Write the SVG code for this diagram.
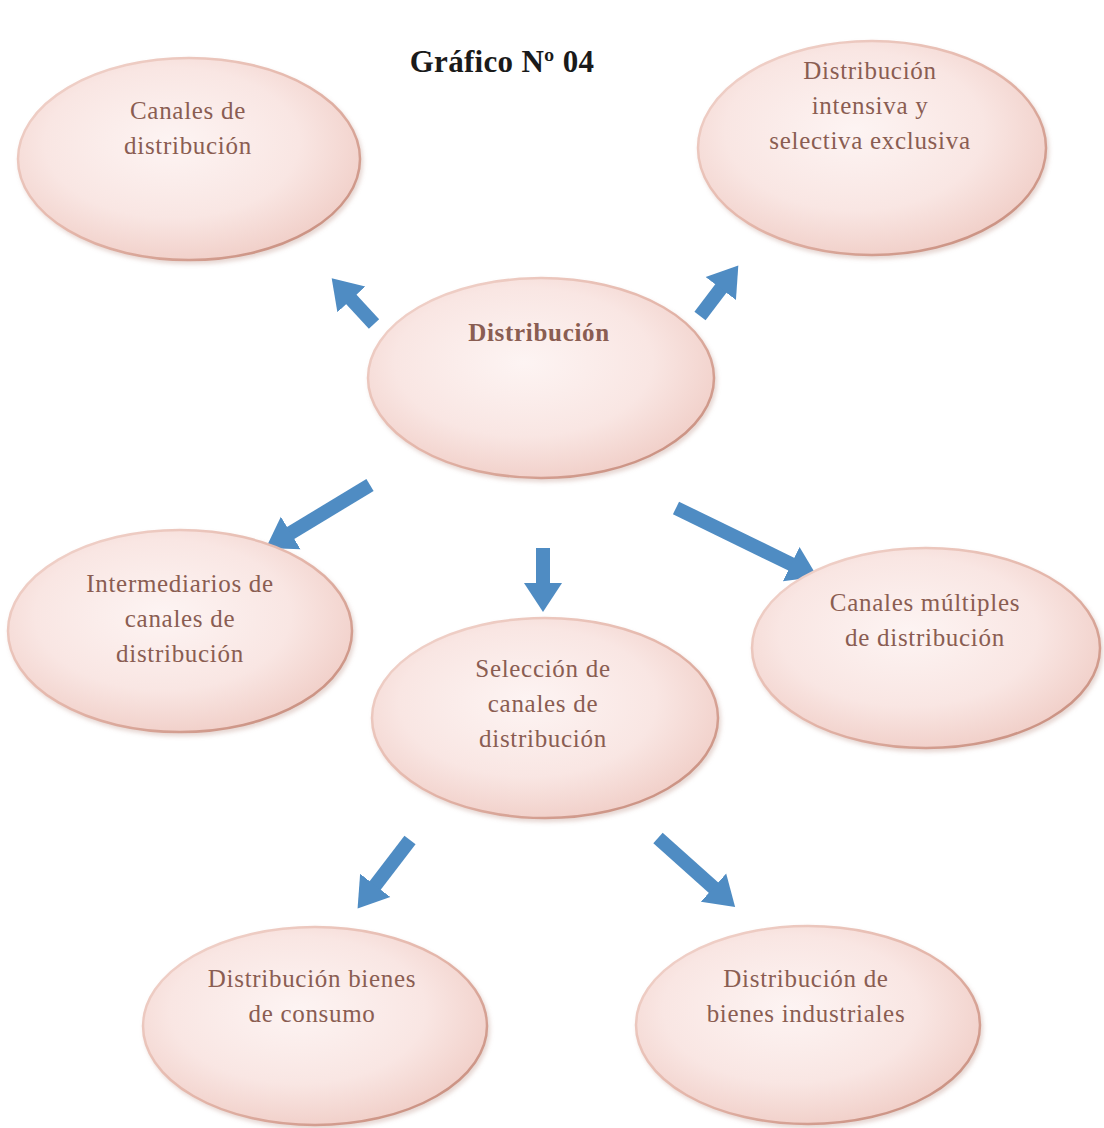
<svg xmlns="http://www.w3.org/2000/svg" width="1104" height="1128" viewBox="0 0 1104 1128">
  <defs>
    <radialGradient id="bubbleFill" cx="0.45" cy="0.42" r="0.62">
      <stop offset="0" stop-color="#fdf4f3"/>
      <stop offset="0.6" stop-color="#f9e6e3"/>
      <stop offset="1" stop-color="#f0cdc6"/>
    </radialGradient>
    <linearGradient id="bubbleRim" x1="0" y1="0" x2="1" y2="1">
      <stop offset="0" stop-color="#f3d8d1"/>
      <stop offset="0.5" stop-color="#e4b6aa"/>
      <stop offset="1" stop-color="#c28676"/>
    </linearGradient>
    <filter id="soft" x="-10%" y="-10%" width="120%" height="125%">
      <feDropShadow dx="2" dy="3" stdDeviation="2" flood-color="#b98a80" flood-opacity="0.35"/>
    </filter>
    <marker id="head" markerUnits="userSpaceOnUse" markerWidth="34" markerHeight="44" viewBox="0 -22 34 44" refX="2" refY="0" orient="auto">
      <path d="M0,-19 L29,0 L0,19 Z" fill="#4f8cc3"/>
    </marker>
  </defs>
  <style>
    .bubble { fill: url(#bubbleFill); stroke: url(#bubbleRim); stroke-width: 2.5; filter: url(#soft); }
    .label { font-family: "Liberation Serif", "Times New Roman", serif; font-size: 25px; letter-spacing: 0.7px; fill: #8a5d52; text-anchor: middle; }
    .bold { font-weight: bold; }
    .title { font-family: "Liberation Serif", "Times New Roman", serif; font-size: 31px; letter-spacing: 0.3px; font-weight: bold; fill: #1a1a1a; text-anchor: middle; }
    .link { stroke: #4f8cc3; stroke-width: 14; fill: none; marker-end: url(#head); }
  </style>

  <rect width="1104" height="1128" fill="#ffffff"/>

  <text class="title" x="502" y="72">Gráfico Nº 04</text>

  <g id="connectors">
    <line class="link" x1="374" y1="324" x2="350" y2="298"/>
    <line class="link" x1="700" y1="316" x2="722" y2="287"/>
    <line class="link" x1="370" y1="485" x2="289" y2="534"/>
    <line class="link" x1="543" y1="548" x2="543" y2="585"/>
    <line class="link" x1="676" y1="508" x2="793" y2="565"/>
    <line class="link" x1="410" y1="840" x2="374" y2="887"/>
    <line class="link" x1="658" y1="838" x2="715" y2="889"/>
  </g>

  <g id="canales-distribucion">
    <ellipse class="bubble" cx="189" cy="159" rx="171" ry="101"/>
    <text class="label" x="188" y="119">Canales de</text>
    <text class="label" x="188" y="154">distribución</text>
  </g>

  <g id="intensiva-selectiva">
    <ellipse class="bubble" cx="872" cy="148" rx="174" ry="107"/>
    <text class="label" x="870" y="79">Distribución</text>
    <text class="label" x="870" y="114">intensiva y</text>
    <text class="label" x="870" y="149">selectiva exclusiva</text>
  </g>

  <g id="distribucion">
    <ellipse class="bubble" cx="541" cy="378" rx="173" ry="100"/>
    <text class="label bold" x="539" y="341">Distribución</text>
  </g>

  <g id="intermediarios">
    <ellipse class="bubble" cx="180" cy="631" rx="172" ry="101"/>
    <text class="label" x="180" y="592">Intermediarios de</text>
    <text class="label" x="180" y="627">canales de</text>
    <text class="label" x="180" y="662">distribución</text>
  </g>

  <g id="canales-multiples">
    <ellipse class="bubble" cx="926" cy="648" rx="174" ry="100"/>
    <text class="label" x="925" y="611">Canales múltiples</text>
    <text class="label" x="925" y="646">de distribución</text>
  </g>

  <g id="seleccion-canales">
    <ellipse class="bubble" cx="545" cy="718" rx="173" ry="100"/>
    <text class="label" x="543" y="677">Selección de</text>
    <text class="label" x="543" y="712">canales de</text>
    <text class="label" x="543" y="747">distribución</text>
  </g>

  <g id="bienes-consumo">
    <ellipse class="bubble" cx="315" cy="1026" rx="172" ry="99"/>
    <text class="label" x="312" y="987">Distribución bienes</text>
    <text class="label" x="312" y="1022">de consumo</text>
  </g>

  <g id="bienes-industriales">
    <ellipse class="bubble" cx="808" cy="1025" rx="172" ry="99"/>
    <text class="label" x="806" y="987">Distribución de</text>
    <text class="label" x="806" y="1022">bienes industriales</text>
  </g>
</svg>
